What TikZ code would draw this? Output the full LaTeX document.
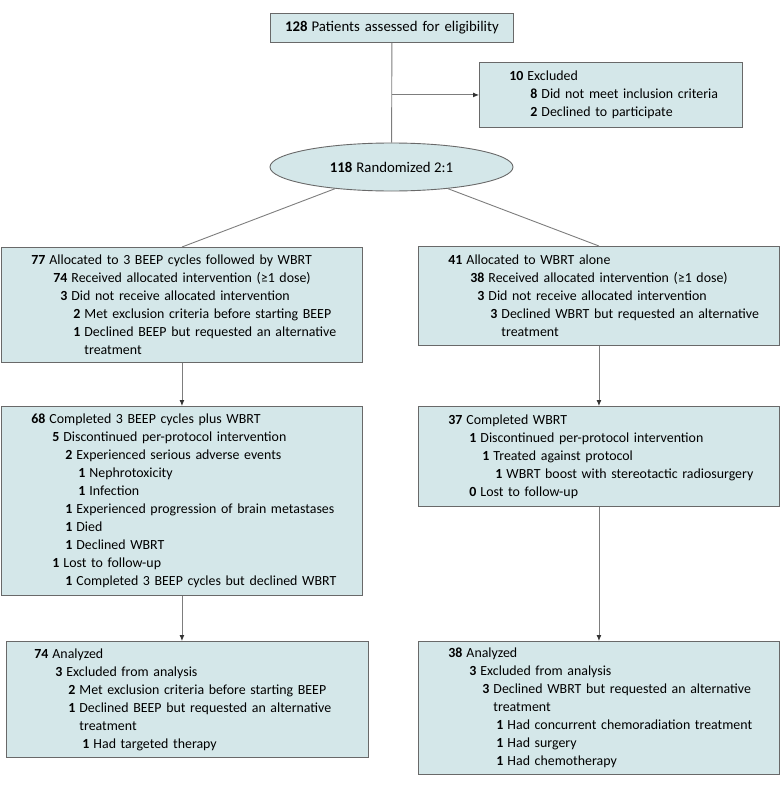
\documentclass[tikz,border=0pt]{standalone}
\usepackage{fontspec}
\setmainfont{Carlito}
\usetikzlibrary{shapes.geometric,arrows.meta}

\definecolor{boxfill}{RGB}{212,231,233}
\definecolor{boxline}{RGB}{105,105,105}
\definecolor{linkline}{RGB}{125,125,125}
\definecolor{tipfill}{RGB}{50,50,50}

\newcommand{\itm}[4]{\hspace*{#1pt}\makebox[\dimexpr #2pt-#1pt-4pt\relax][r]{\textbf{#3}}\hspace*{4pt}#4}
\newcommand{\cont}[2]{\hspace*{#1pt}#2}
\newcommand{\boxfont}{\fontsize{13.9}{18}\selectfont\lineskiplimit=-20pt\relax}

\tikzset{
    box/.style={draw=boxline, fill=boxfill, line width=0.9pt, anchor=north west, inner xsep=0pt, inner ysep=0pt, align=left, font=\boxfont},
    head/.style={box, align=center, font=\fontsize{14.8}{18}\selectfont},
    link/.style={draw=linkline, line width=0.9pt},
    arr/.style={link, -{Latex[length=6pt,width=5pt,color=tipfill]}}
}

\begin{document}
\begin{tikzpicture}[x=1pt, y=-1pt]
            \useasboundingbox (0, 0) rectangle (780, 789);

            \node[head, text width=243pt, minimum height=29pt] (screen) at (270, 13) {\textbf{128}\hspace{4pt}Patients assessed for eligibility};
            \node[box, text width=263pt, minimum height=65pt] (excl) at (479, 62) {\itm{26}{48}{10}{Excluded}\\\itm{48}{62}{8}{Did not meet inclusion criteria}\\\itm{48}{62}{2}{Declined to participate}};
            \node[head, anchor=center, ellipse, minimum width=243pt, minimum height=48pt] (rand) at (391.5, 167) {\textbf{118}\hspace{4pt}Randomized 2:1};

            \node[box, text width=361pt, minimum height=115pt] (alloc1) at (1, 247) {\itm{26}{48}{77}{Allocated to 3 BEEP cycles followed by WBRT}\\\itm{48}{70}{74}{Received allocated intervention (≥1 dose)}\\\itm{48}{70}{3}{Did not receive allocated intervention}\\\itm{70}{83}{2}{Met exclusion criteria before starting BEEP}\\\itm{70}{83}{1}{Declined BEEP but requested an alternative}\\\cont{83}{treatment}};
            \node[box, text width=361pt, minimum height=99pt] (alloc2) at (418, 246) {\itm{26}{48}{41}{Allocated to WBRT alone}\\\itm{48}{70}{38}{Received allocated intervention (≥1 dose)}\\\itm{48}{70}{3}{Did not receive allocated intervention}\\\itm{70}{83}{3}{Declined WBRT but requested an alternative}\\\cont{83}{treatment}};

            \node[box, text width=361pt, minimum height=189pt] (comp1) at (1, 406) {\itm{26}{48}{68}{Completed 3 BEEP cycles plus WBRT}\\\itm{48}{62}{5}{Discontinued per-protocol intervention}\\\itm{62}{75}{2}{Experienced serious adverse events}\\\itm{75}{88}{1}{Nephrotoxicity}\\\itm{75}{88}{1}{Infection}\\\itm{62}{75}{1}{Experienced progression of brain metastases}\\\itm{62}{75}{1}{Died}\\\itm{62}{75}{1}{Declined WBRT}\\\itm{48}{62}{1}{Lost to follow-up}\\\itm{62}{75}{1}{Completed 3 BEEP cycles but declined WBRT}};
            \node[box, text width=361pt, minimum height=100pt] (comp2) at (418, 406) {\itm{26}{48}{37}{Completed WBRT}\\\itm{48}{62}{1}{Discontinued per-protocol intervention}\\\itm{62}{75}{1}{Treated against protocol}\\\itm{75}{88}{1}{WBRT boost with stereotactic radiosurgery}\\\itm{48}{62}{0}{Lost to follow-up}};

            \node[box, text width=362pt, minimum height=116pt] (ana1) at (6, 641) {\itm{24}{46}{74}{Analyzed}\\\itm{46}{60}{3}{Excluded from analysis}\\\itm{60}{73}{2}{Met exclusion criteria before starting BEEP}\\\itm{60}{73}{1}{Declined BEEP but requested an alternative}\\\cont{73}{treatment}\\\itm{73}{87}{1}{Had targeted therapy}};
            \node[box, text width=361pt, minimum height=133pt] (ana2) at (418, 641) {\itm{26}{48}{38}{Analyzed}\\\itm{48}{62}{3}{Excluded from analysis}\\\itm{62}{75}{3}{Declined WBRT but requested an alternative}\\\cont{75}{treatment}\\\itm{75}{89}{1}{Had concurrent chemoradiation treatment}\\\itm{75}{89}{1}{Had surgery}\\\itm{75}{89}{1}{Had chemotherapy}};

            \draw[link] (screen) -- (rand);
            \draw[arr] (screen.south |- excl.west) -- (excl.west);
            \draw[link] (rand.201) -- (alloc1.north);
            \draw[link] (rand.339) -- (alloc2.north);
            \draw[arr] (alloc1) -- (comp1);
            \draw[arr] (alloc2) -- (comp2);
            \draw[arr] (comp1.south) -- (comp1.south |- ana1.north);
            \draw[arr] (comp2) -- (ana2);
\end{tikzpicture}
\end{document}
